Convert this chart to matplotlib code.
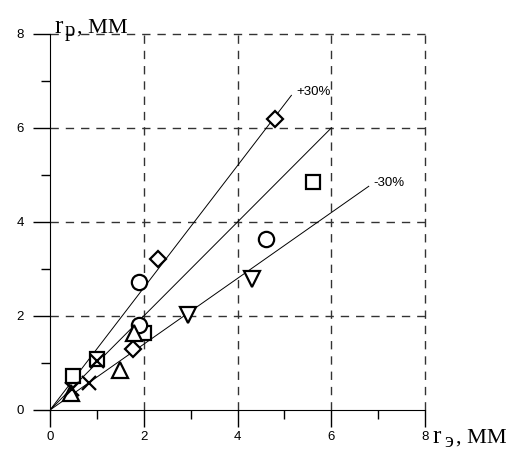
import matplotlib.pyplot as plt
import matplotlib as mpl

mpl.rcParams['font.family'] = ['Liberation Sans', 'DejaVu Sans']

# measured (r_e) vs calculated (r_p) radius, mm
diamond_x = [4.8, 2.3, 1.78]
diamond_y = [6.2, 3.22, 1.3]
square_x = [5.6, 1.0, 0.49, 2.0]
square_y = [4.85, 1.08, 0.72, 1.64]
circle_x = [1.9, 4.6, 1.9]
circle_y = [2.72, 3.64, 1.8]
tri_up_x = [1.8, 1.49, 0.45]
tri_up_y = [1.64, 0.86, 0.36]
tri_down_x = [2.95, 4.3]
tri_down_y = [2.03, 2.78]
cross_x = [1.0, 0.83, 0.47]
cross_y = [1.05, 0.58, 0.45]

# reference lines: slope and x extent
line_slopes = [1.3, 1.0, 0.7]
line_xmax = [5.15, 6.0, 6.8]
line_labels = ['+30%', '', '-30%']

major_ticks = [0, 2, 4, 6, 8]
minor_ticks = [1, 3, 5, 7]

W, H = 507, 453
fig = plt.figure(figsize=(W/100, H/100), dpi=100)
ax = fig.add_axes([50/W, 43/H, 375/W, 376/H])

for k, xm, lab in zip(line_slopes, line_xmax, line_labels):
    ax.plot([0, xm], [0, k*xm], color='black', lw=0.7, zorder=2)
    if lab:
        ax.text(xm + 0.1, k*xm + 0.08, lab, fontsize=9.5, ha='left', va='center')

mk = dict(mfc='white', mec='black', mew=1.6, ls='none', zorder=3)
ax.plot(diamond_x, diamond_y, marker='D', ms=8, **mk)
ax.plot(square_x, square_y, marker='s', ms=9.5, **mk)
ax.plot(circle_x, circle_y, marker='o', ms=11, **mk)
ax.plot(tri_up_x, tri_up_y, marker='^', ms=11, **mk)
ax.plot(tri_down_x, tri_down_y, marker='v', ms=11, **mk)
ax.plot(cross_x, cross_y, marker='x', ms=10, mec='black', mew=1.6, ls='none', zorder=4)

ax.set_xlim(0, 8)
ax.set_ylim(0, 8)
ax.set_xticks(major_ticks)
ax.set_yticks(major_ticks)
ax.set_xticks(minor_ticks, minor=True)
ax.set_yticks(minor_ticks, minor=True)
ax.tick_params(which='major', direction='out', length=12, width=1, labelsize=9.5)
ax.tick_params(axis='x', which='major', pad=3)
ax.tick_params(axis='y', which='major', pad=7)
ax.tick_params(which='minor', direction='out', length=6.5, width=1)

for t in major_ticks[1:]:
    ax.axvline(t, color='#333333', lw=1, ls=(0, (6, 5)), zorder=1, clip_on=False)
    ax.axhline(t, color='#333333', lw=1, ls=(0, (6, 5)), zorder=1, clip_on=False)

ax.spines['top'].set_visible(False)
ax.spines['right'].set_visible(False)

# axis captions: r with subscript, set as separate pieces
serif = ['Liberation Serif']
def caption(x, y, sub, sx, sy, rest_x):
    fig.text(x/W, 1 - y/H, 'r', fontsize=18, family=serif, va='baseline')
    fig.text(sx/W, 1 - (y + sy)/H, sub, fontsize=15, family=serif, va='baseline')
    fig.text(rest_x/W, 1 - y/H, ', ММ', fontsize=16, family=serif, va='baseline')

caption(54, 33, 'р', 65, 3, 77)
caption(432, 443, 'э', 444, 4, 456)

fig.savefig('out.png', dpi=100)
